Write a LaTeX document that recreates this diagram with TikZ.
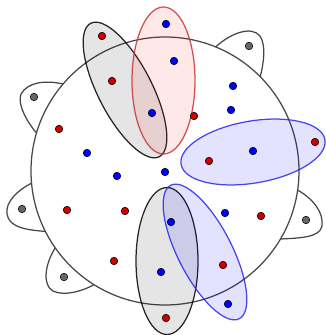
\documentclass[tikz,border=0pt]{standalone}
\usetikzlibrary{calc}
\definecolor{dotblue}{RGB}{0,0,255}
\definecolor{dotred}{RGB}{204,0,0}
\definecolor{dotgray}{RGB}{102,102,102}
\definecolor{edgered}{RGB}{205,50,50}
\definecolor{edgeblue}{RGB}{40,40,235}
\begin{document}
\begin{tikzpicture}[x=1pt,y=-1pt,
  vtx/.style={circle,inner sep=0pt,minimum size=7.6pt,draw=black,line width=0.5pt},
  bv/.style={vtx,fill=dotblue},
  rv/.style={vtx,fill=dotred},
  gv/.style={vtx,fill=dotgray},
  hgray/.style={draw=black,draw opacity=0.85,fill=black,fill opacity=0.1,line width=1.25pt},
  hred/.style={draw=edgered,draw opacity=0.85,fill=red,fill opacity=0.09,line width=1.25pt},
  hblue/.style={draw=edgeblue,draw opacity=0.85,fill=blue,fill opacity=0.11,line width=1.25pt},
  ring/.style={draw=black!72,line width=1.25pt},
  petal/.style={draw=black!72,line width=1.25pt}]
\useasboundingbox (0,0) rectangle (326,335);
\coordinate (C) at (165,171);
% big circle
\draw[ring] (C) circle[radius=134pt];
% petals
\draw[petal] ($(C)+(-67.8:134)$) .. controls (232,32) and (252,26) .. (260,36)
  .. controls (266,45) and (264,62) .. ($(C)+(-44.7:134)$);
\draw[petal] ($(C)+(-139.5:134)$) .. controls (45,80) and (28,82) .. (21,94)
  .. controls (17,104) and (27,122) .. ($(C)+(-163.5:134)$);
\draw[petal] ($(C)+(174.8:134)$) .. controls (18,190) and (5,202) .. (7,214)
  .. controls (9,228) and (28,230) .. ($(C)+(153.2:134)$);
\draw[petal] ($(C)+(145:134)$) .. controls (45,264) and (42,285) .. (53,291)
  .. controls (65,297) and (85,290) .. ($(C)+(122:134)$);
\draw[petal] ($(C)+(8.2:134)$) .. controls (312,198) and (324,212) .. (322,226)
  .. controls (320,238) and (298,238) .. ($(C)+(30.5:134)$);
% hyperedges
\draw[hgray, rotate around={-62.8:(125,90)}] (125,90) ellipse [x radius=75pt, y radius=27pt];
\draw[hred] (163.5,80.5) ellipse [x radius=31.5pt, y radius=73.5pt];
\draw[hblue, rotate around={9.7:(253,152)}] (253,152) ellipse [x radius=73pt, y radius=31pt];
\draw[hgray] (167,261) ellipse [x radius=31pt, y radius=73.5pt];
\draw[hblue, rotate around={-62.8:(205,252)}] (205,252) ellipse [x radius=75pt, y radius=27pt];
% vertices
\node[bv] (b1) at (166,24) {};
\node[bv] (b2) at (174,61) {};
\node[bv] (b3) at (152,113) {};
\node[bv] (b4) at (87,153) {};
\node[bv] (b5) at (117,176) {};
\node[bv] (b6) at (165,172) {};
\node[bv] (b7) at (233,86) {};
\node[bv] (b8) at (231,110) {};
\node[bv] (b9) at (253,151) {};
\node[bv] (b10) at (171,222) {};
\node[bv] (b11) at (225,213) {};
\node[bv] (b12) at (161,272) {};
\node[bv] (b13) at (228,304) {};
\node[rv] (r1) at (102,36) {};
\node[rv] (r2) at (112,81) {};
\node[rv] (r3) at (59,129) {};
\node[rv] (r4) at (194,116) {};
\node[rv] (r5) at (209,161) {};
\node[rv] (r6) at (315,142) {};
\node[rv] (r7) at (67,210) {};
\node[rv] (r8) at (125,211) {};
\node[rv] (r9) at (114,261) {};
\node[rv] (r10) at (261,216) {};
\node[rv] (r11) at (223,265) {};
\node[rv] (r12) at (166,318) {};
\node[gv] (g1) at (249,46) {};
\node[gv] (g2) at (34,97) {};
\node[gv] (g3) at (22,209) {};
\node[gv] (g4) at (64,277) {};
\node[gv] (g5) at (306,220) {};
\end{tikzpicture}
\end{document}
